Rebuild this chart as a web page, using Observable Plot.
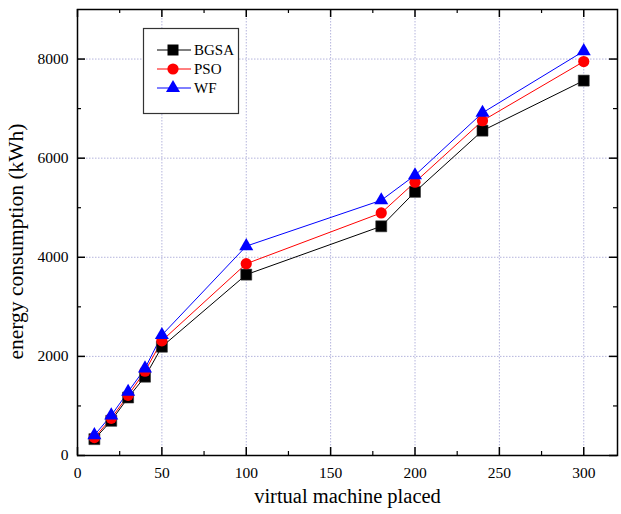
<!DOCTYPE html>
<html><head><meta charset="utf-8">
<script src="https://cdn.jsdelivr.net/npm/d3@7"></script>
<script src="https://cdn.jsdelivr.net/npm/@observablehq/plot@0.6"></script>
<style>body{margin:0;background:#fff;} svg{display:block;}</style>
</head><body><div id="chart"></div>
<script>
const vms = [10, 20, 30, 40, 50, 100, 180, 200, 240, 300];
const bgsa = [330, 700, 1170, 1590, 2195, 3650, 4625, 5320, 6555, 7565];
const pso  = [360, 750, 1215, 1700, 2315, 3870, 4895, 5515, 6755, 7950];
const wf   = [410, 810, 1285, 1757, 2430, 4225, 5150, 5655, 6915, 8160];
const seriesNames = ["BGSA", "PSO", "WF"];
const seriesColors = ["#000000", "#ff0000", "#0000ff"];
const seriesSymbols = ["square", "circle", "triangle"];
const xMajor = [0, 50, 100, 150, 200, 250, 300];
const xMinor = [25, 75, 125, 175, 225, 275];
const yMajor = [0, 2000, 4000, 6000, 8000];
const yMinor = [1000, 3000, 5000, 7000];

const series = [bgsa, pso, wf];
const rows = [];
series.forEach((vals, i) => vals.forEach((v, j) => rows.push({s: seriesNames[i], x: vms[j], y: v})));

const W = 621, H = 514, mL = 77, mR = 4, mT = 9, mB = 59;
const pw = W - mL - mR, ph = H - mT - mB;
const serif = "'Liberation Serif', 'Times New Roman', serif";

const gridStyle = {stroke: "#b4b4dc", strokeOpacity: 1, strokeDasharray: "1.5,1.5", strokeWidth: 1};
const sizes = {square: 6.2, circle: 5.6, triangle: 5.2};

const marks = [
  Plot.gridX(xMajor.filter(d => d > 0), gridStyle),
  Plot.gridY(yMajor.filter(d => d > 0), gridStyle),
  Plot.axisX(xMajor, {tickSize: 0, tickPadding: 11, fontSize: 15.5, tickFormat: d => `${d}`, label: null}),
  Plot.axisY(yMajor, {tickSize: 0, tickPadding: 9, fontSize: 15.5, tickFormat: d => `${d}`, label: null}),
  // inward ticks, all four sides
  Plot.tickX(xMajor, {x: d => d, insetTop: ph - 8, stroke: "#000", strokeWidth: 1.5}),
  Plot.tickX(xMinor, {x: d => d, insetTop: ph - 4, stroke: "#000", strokeWidth: 1.2}),
  Plot.tickX(xMajor, {x: d => d, insetBottom: ph - 8, stroke: "#000", strokeWidth: 1.5}),
  Plot.tickX(xMinor, {x: d => d, insetBottom: ph - 4, stroke: "#000", strokeWidth: 1.2}),
  Plot.tickY(yMajor, {y: d => d, insetRight: pw - 8, stroke: "#000", strokeWidth: 1.5}),
  Plot.tickY(yMinor, {y: d => d, insetRight: pw - 4, stroke: "#000", strokeWidth: 1.2}),
  Plot.tickY(yMajor, {y: d => d, insetLeft: pw - 8, stroke: "#000", strokeWidth: 1.5}),
  Plot.tickY(yMinor, {y: d => d, insetLeft: pw - 4, stroke: "#000", strokeWidth: 1.2}),
  Plot.frame({stroke: "#000", strokeWidth: 1.5}),
];
seriesNames.forEach((name, i) => {
  const data = rows.filter(r => r.s === name);
  marks.push(Plot.line(data, {x: "x", y: "y", stroke: seriesColors[i], strokeWidth: 1}));
});
seriesNames.forEach((name, i) => {
  const data = rows.filter(r => r.s === name);
  marks.push(Plot.dot(data, {x: "x", y: "y", symbol: () => seriesSymbols[i], fill: seriesColors[i],
    stroke: i === 0 ? "#333" : "none", strokeWidth: 0.6, r: sizes[seriesSymbols[i]]}));
});
marks.push(Plot.text(["virtual machine placed"], {frameAnchor: "bottom", dy: 47, fontSize: 20.5, fill: "#000", textAnchor: "middle"}));
marks.push(Plot.text(["energy consumption (kWh)"], {frameAnchor: "left", dx: -61, dy: 9, rotate: -90, fontSize: 21.5, fill: "#000", textAnchor: "middle"}));

const chart = Plot.plot({
  width: W, height: H,
  marginLeft: mL, marginRight: mR, marginTop: mT, marginBottom: mB,
  style: {fontFamily: serif, color: "#000", background: "#fff", overflow: "visible"},
  x: {domain: [0, 320], axis: null},
  y: {domain: [0, 9000], axis: null},
  symbol: {type: "identity"},
  marks
});
document.getElementById("chart").appendChild(chart);

// legend box
const svg = d3.select(chart);
const lg = svg.append("g").attr("font-family", serif).attr("text-anchor", "start");
lg.append("rect").attr("x", 143.5).attr("y", 28.5).attr("width", 95).attr("height", 85)
  .attr("fill", "#fff").attr("stroke", "#333").attr("stroke-width", 1.2);
seriesNames.forEach((name, i) => {
  const yy = 50 + i * 19;
  lg.append("line").attr("x1", 157).attr("x2", 191).attr("y1", yy).attr("y2", yy)
    .attr("stroke", seriesColors[i]).attr("stroke-width", 1);
  const sym = {square: d3.symbolSquare, circle: d3.symbolCircle, triangle: d3.symbolTriangle}[seriesSymbols[i]];
  const r = sizes[seriesSymbols[i]];
  lg.append("path").attr("d", d3.symbol(sym, Math.PI * r * r)()).attr("transform", `translate(173,${yy})`)
    .attr("fill", seriesColors[i]);
  lg.append("text").attr("x", 194).attr("y", yy).attr("dy", "0.35em").attr("font-size", 15)
    .attr("fill", "#000").attr("text-anchor", "start").text(name);
});
</script></body></html>
